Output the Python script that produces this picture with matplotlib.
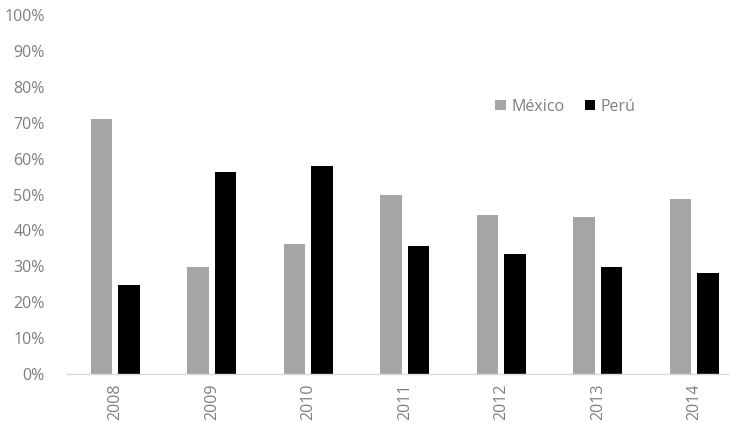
import numpy as np
import matplotlib.pyplot as plt
from matplotlib.ticker import PercentFormatter

plt.rcParams['font.family'] = ['Open Sans', 'DejaVu Sans']

years = ['2008', '2009', '2010', '2011', '2012', '2013', '2014']
mexico = [71.0, 29.7, 36.1, 49.9, 44.3, 43.7, 48.7]
peru = [24.8, 56.2, 58.0, 35.6, 33.3, 29.7, 28.0]

labelColor = '#7f7f7f'

fig = plt.figure(figsize=(7.30, 4.23), dpi=100)
ax = fig.add_axes([0.0918, 0.1158, 0.9082, 0.8487])

x = np.arange(len(years))
barWidth = 0.22
ax.bar(x - 0.143, mexico, width=barWidth, color='#a5a5a5', label='México')
ax.bar(x + 0.143, peru, width=barWidth, color='#000000', label='Perú')

ax.set_xlim(-0.5, 6.37)
ax.set_ylim(0, 100)
ax.set_yticks(range(0, 101, 10))
ax.yaxis.set_major_formatter(PercentFormatter(decimals=0))
ax.set_xticks(x)
ax.set_xticklabels(years, rotation=90)

for side in ['top', 'right', 'left']:
    ax.spines[side].set_visible(False)
ax.spines['bottom'].set_color('#d9d9d9')
ax.spines['bottom'].set_linewidth(1.0)

ax.tick_params(axis='both', length=0, labelsize=11.5, labelcolor=labelColor)
ax.tick_params(axis='y', pad=16)
ax.tick_params(axis='x', pad=7)

ax.legend(loc='center', bbox_to_anchor=(0.752, 0.745), ncol=2, frameon=False,
          fontsize=11.5, labelcolor=labelColor, handlelength=0.65, handleheight=0.65,
          handletextpad=0.35, columnspacing=1.3)

fig.savefig('out.png', dpi=100)
